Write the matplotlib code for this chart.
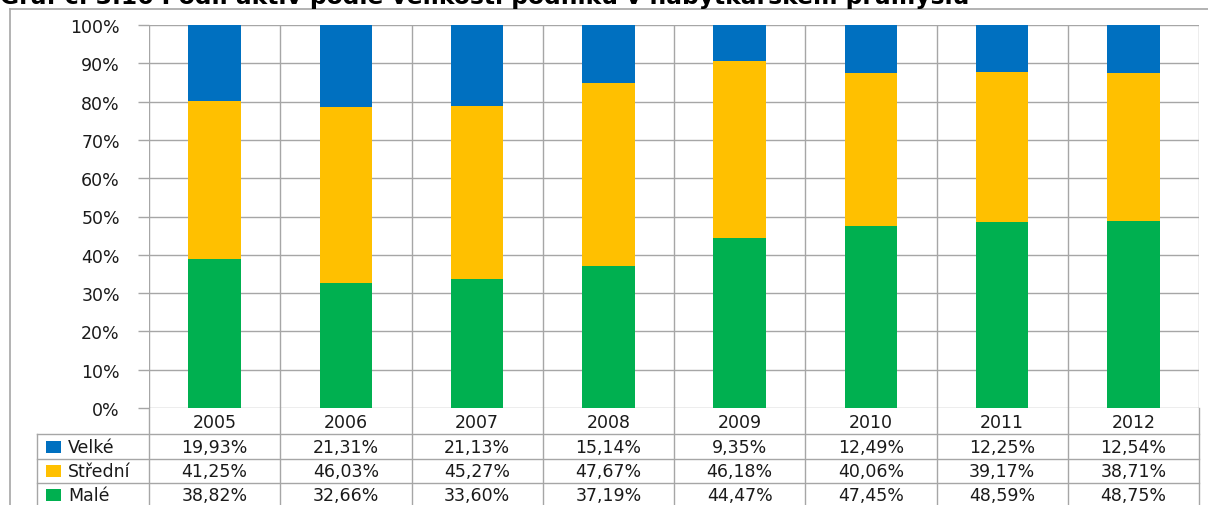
import numpy as np
import matplotlib
matplotlib.use('Agg')
import matplotlib.pyplot as plt
from matplotlib.lines import Line2D
from matplotlib.patches import Rectangle
from matplotlib.transforms import blended_transform_factory

plt.rcParams['font.family'] = ['DejaVu Sans']

# data
years = ['2005', '2006', '2007', '2008', '2009', '2010', '2011', '2012']
velke = [19.93, 21.31, 21.13, 15.14, 9.35, 12.49, 12.25, 12.54]
stredni = [41.25, 46.03, 45.27, 47.67, 46.18, 40.06, 39.17, 38.71]
male = [38.82, 32.66, 33.60, 37.19, 44.47, 47.45, 48.59, 48.75]

series_names = ['Velké', 'Střední', 'Malé']
series_vals = [velke, stredni, male]
series_colors = ['#0070C0', '#FFC000', '#00B050']

title = 'Graf č. 3.16 Podíl aktiv podle velikosti podniku v nábytkářském průmyslu'

W, H = 1208, 506
GRID = '#A6A6A6'
TXT = '#1a1a1a'
FS = 12.5

fig = plt.figure(figsize=(W / 100, H / 100), dpi=100)


def fy(px):
    return 1 - px / H


def fx(px):
    return px / W


# outer chart frame and title
fig.add_artist(Line2D([fx(10), fx(10)], [fy(10), 0], color=GRID, lw=1.2))
fig.add_artist(Line2D([fx(10), 1], [fy(10), fy(10)], color=GRID, lw=1.2))
fig.text(fx(0), fy(4), title, fontsize=16.8, fontweight='bold', color='black',
         ha='left', va='baseline')

left, right, top, bottom = 149, 1199, 26, 409
ax = fig.add_axes([fx(left), fy(bottom), fx(right - left), (bottom - top) / H])

x = np.arange(len(years))
base = np.zeros(len(years))
# stack from bottom: Malé, Střední, Velké
for name, vals, col in zip(series_names[::-1], series_vals[::-1], series_colors[::-1]):
    ax.bar(x, vals, width=0.40, bottom=base, color=col, zorder=3, label=name)
    base += np.array(vals)

ax.set_xlim(-0.5, len(years) - 0.5)
ax.set_ylim(0, 100)
ax.set_yticks(np.arange(0, 101, 10))
ax.set_yticklabels([f'{v}%' for v in range(0, 101, 10)], fontsize=FS, color=TXT)
ax.tick_params(axis='y', length=8, width=1, color=GRID, pad=13)
ax.set_xticks([])
for s in ax.spines.values():
    s.set_visible(False)
for v in range(0, 101, 10):
    ax.axhline(v, color=GRID, lw=1, zorder=1)

# data table under the plot
tr = blended_transform_factory(ax.transData, fig.transFigure)
row_lines = [435, 460, 484]
for b in np.arange(-0.5, len(years), 1.0):
    ax.add_artist(Line2D([b, b], [1, 0], transform=ax.get_xaxis_transform(),
                         color=GRID, lw=1, zorder=1))
    fig.add_artist(Line2D([b, b], [fy(bottom), 0], transform=tr, color=GRID, lw=1))
for ry in row_lines:
    fig.add_artist(Line2D([fx(37), fx(right)], [fy(ry), fy(ry)], color=GRID, lw=1))
fig.add_artist(Line2D([fx(37), fx(37)], [fy(435), 0], color=GRID, lw=1))

# header row with years
for i, yr in enumerate(years):
    fig.text(i, fy(423), yr, transform=tr, fontsize=FS, color=TXT,
             ha='center', va='center')

row_centers = [448, 472, 496]
for name, vals, col, cy in zip(series_names, series_vals, series_colors, row_centers):
    fig.add_artist(Rectangle((fx(46), fy(cy + 6)), fx(15), 12 / H,
                             facecolor=col, edgecolor='none'))
    fig.text(fx(68), fy(cy), name, fontsize=FS, color=TXT, ha='left', va='center')
    for i, v in enumerate(vals):
        fig.text(i, fy(cy), f'{v:.2f}%'.replace('.', ','), transform=tr,
                 fontsize=FS, color=TXT, ha='center', va='center')

fig.savefig('out.png', dpi=100)
